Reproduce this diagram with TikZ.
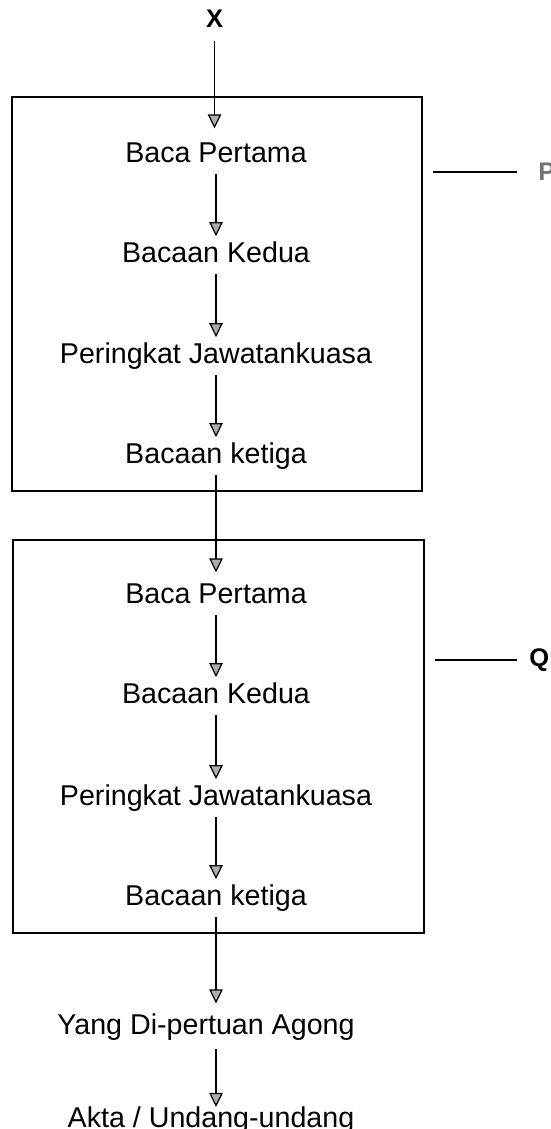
\documentclass[tikz,border=0pt]{standalone}
\usepackage{fontspec}
\setmainfont{Liberation Sans}
\usetikzlibrary{arrows.meta,positioning,calc}
\tikzset{
	stage/.style = {inner sep = 0pt, text height = 11.7pt, text depth = 3.4pt, font = \fontsize{16.3}{19}\selectfont},
	tag/.style = {inner sep = 0pt, font = \fontsize{14.5}{17}\selectfont\bfseries},
	flow/.style = {line width = 1.1pt, -{Triangle[length = 0.28cm, width = 0.27cm, fill = gray!65, line width = 0.7pt]}, shorten <= 3pt, shorten >= 3pt},
	house/.style = {draw, line width = 1pt, inner sep = 0pt},
	tick/.style = {line width = 0.8pt}
}
\begin{document}
\begin{tikzpicture}
		\useasboundingbox (0,0) rectangle (11,-22.58);
		\node [house, minimum width = 8.2cm, minimum height = 7.88cm](boxP) at (4.34,-5.88) {};
		\node [house, minimum width = 8.22cm, minimum height = 7.86cm](boxQ) at (4.37,-14.73) {};
		\node [tag](x) at (4.29,-0.37) {X};
		\node [stage](bacaP) at (4.32,-3.10) {Baca Pertama};
		\node [stage](keduaP) at (4.32,-5.10) {Bacaan Kedua};
		\node [stage](jawatanP) at (4.32,-7.12) {Peringkat Jawatankuasa};
		\node [stage](ketigaP) at (4.32,-9.12) {Bacaan ketiga};
		\node [stage](bacaQ) at (4.32,-11.92) {Baca Pertama};
		\node [stage](keduaQ) at (4.32,-13.92) {Bacaan Kedua};
		\node [stage](jawatanQ) at (4.32,-15.96) {Peringkat Jawatankuasa};
		\node [stage](ketigaQ) at (4.32,-17.96) {Bacaan ketiga};
		\node [stage](agong) at (4.12,-20.54) {Yang Di-pertuan Agong};
		\node [stage](akta) at (4.22,-22.41) {Akta / Undang-undang};
		\node [tag, anchor = west, text = black!55](labP) at (10.76,-3.44) {P};
		\node [tag, anchor = west](labQ) at (10.58,-13.2) {Q};
		\draw [flow, shorten <= 0.26cm, shorten >= 0.26cm] (x.south) -- (x.south |- bacaP.north);
		\draw [flow] (bacaP.south) -- (bacaP.south |- keduaP.north);
		\draw [flow] (keduaP.south) -- (keduaP.south |- jawatanP.north);
		\draw [flow] (jawatanP.south) -- (jawatanP.south |- ketigaP.north);
		\draw [flow, shorten >= 0.2cm] (ketigaP.south) -- (ketigaP.south |- bacaQ.north);
		\draw [flow] (bacaQ.south) -- (bacaQ.south |- keduaQ.north);
		\draw [flow] (keduaQ.south) -- (keduaQ.south |- jawatanQ.north);
		\draw [flow] (jawatanQ.south) -- (jawatanQ.south |- ketigaQ.north);
		\draw [flow, shorten >= 0.2cm] (ketigaQ.south) -- (ketigaQ.south |- agong.north);
		\draw [flow, shorten <= 0.16cm, shorten >= 0pt] (ketigaQ.south |- agong.south) -- (ketigaQ.south |- akta.north);
		\draw [tick, shorten <= 0.2cm, shorten >= 0.42cm] (boxP.east |- labP.west) -- (labP.west);
		\draw [tick, shorten <= 0.2cm, shorten >= 0.24cm] (boxQ.east |- labQ.west) -- (labQ.west);
		\end{tikzpicture}
\end{document}
